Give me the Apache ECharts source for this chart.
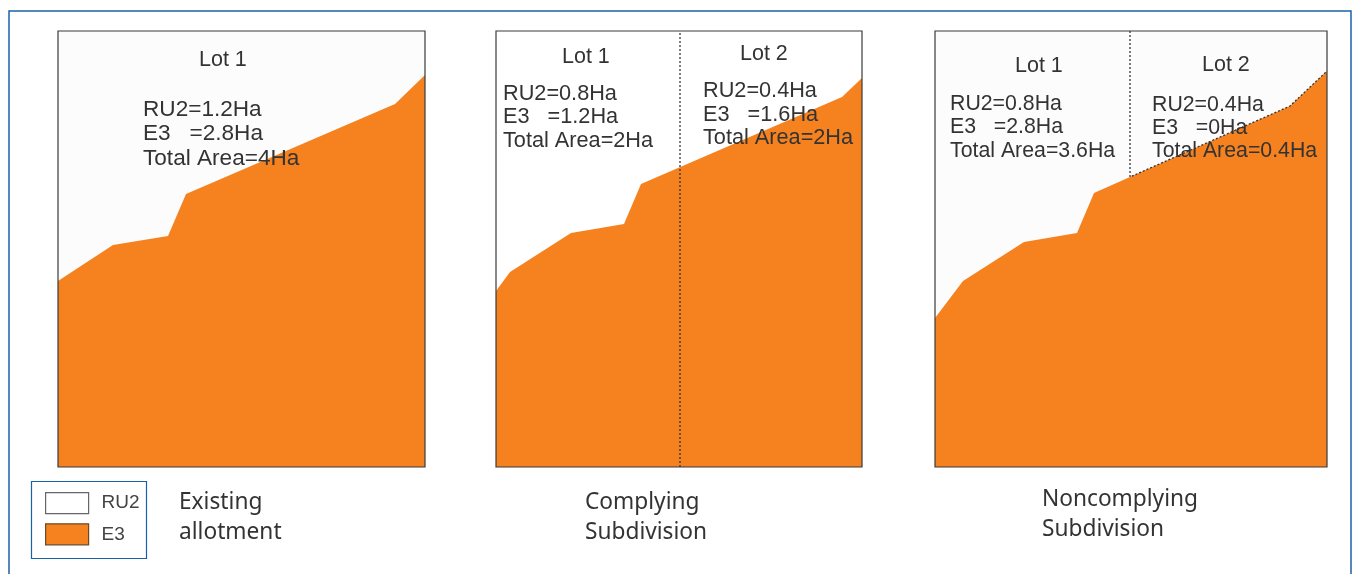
<!DOCTYPE html>
<html><head><meta charset="utf-8">
<style>html,body{margin:0;padding:0;background:#fff}#c{width:1353px;height:574px}</style>
<script src="https://cdn.jsdelivr.net/npm/echarts@6/dist/echarts.min.js"></script>
</head><body><div id="c"></div>
<script>
// Boundary between the RU2 and E3 zones in each panel, in panel units (0 = left / bottom)
const p1X = [0, 55, 110, 128, 337, 367];
const p1Y = [186, 222, 231, 273, 363, 392];
const p2X = [0, 14, 75, 128, 145, 346, 366];
const p2Y = [176, 195, 234, 243, 283, 370, 389];
const p3X = [0, 28, 89, 142, 159, 195, 355, 392];
const p3Y = [149, 186, 225, 234, 274, 290, 361, 396];
// Lot dividers
const p2DivX = [184, 184];
const p2DivY = [0, 436];
const p3DivX = [195, 195, 355, 392];
const p3DivY = [436, 290, 361, 396];
const zoneNames = ['RU2', 'E3'];
const panelHeight = 436;
const COL_E3 = '#f5821f', INK = '#333333';

const panels = [
  {left:58, width:367, xs:p1X, ys:p1Y, bg:'#fcfcfc'},
  {left:496, width:366, xs:p2X, ys:p2Y, divX:p2DivX, divY:p2DivY, bg:'#ffffff'},
  {left:935, width:392, xs:p3X, ys:p3Y, divX:p3DivX, divY:p3DivY, bg:'#fcfcfc'}
];
const grid=[], xAxis=[], yAxis=[], series=[];
panels.forEach((p,i)=>{
  grid.push({left:p.left, top:31, width:p.width, height:panelHeight, show:true,
    backgroundColor:'transparent', borderColor:'#3a3a3a', borderWidth:1.2, z:5});
  xAxis.push({type:'value', gridIndex:i, min:0, max:p.width, show:false});
  yAxis.push({type:'value', gridIndex:i, min:0, max:panelHeight, show:false});
  series.push({name:zoneNames[0], type:'line', xAxisIndex:i, yAxisIndex:i, symbol:'none', silent:true,
    data:[[0,panelHeight],[p.width,panelHeight]], lineStyle:{width:0}, areaStyle:{color:p.bg,opacity:1},
    itemStyle:{color:p.bg}, z:1});
  series.push({name:zoneNames[1], type:'line', xAxisIndex:i, yAxisIndex:i, symbol:'none', silent:true,
    data:p.xs.map((x,k)=>[x,p.ys[k]]), lineStyle:{width:0}, areaStyle:{color:COL_E3,opacity:1},
    itemStyle:{color:COL_E3}, z:2});
  if(p.divX) series.push({type:'line', xAxisIndex:i, yAxisIndex:i, symbol:'none', silent:true,
    data:p.divX.map((x,k)=>[x,p.divY[k]]), lineStyle:{color:'#333',width:1.3,type:[2,2]}, z:3});
});

const labels = [
  ['Lot 1',199,60,21.5],['RU2=1.2Ha',143,110,22.6],['E3   =2.8Ha',143,134,22.6],['Total Area=4Ha',143,159,22.6],
  ['Lot 1',562,57,21.5],['RU2=0.8Ha',503,94,21.7],['E3   =1.2Ha',503,117,21.7],['Total Area=2Ha',503,141,21.7],
  ['Lot 2',740,54,21.5],['RU2=0.4Ha',703,91,21.7],['E3   =1.6Ha',703,115,21.7],['Total Area=2Ha',703,138,21.7],
  ['Lot 1',1015,66,21.5],['RU2=0.8Ha',950,104,21.3],['E3   =2.8Ha',950,127,21.3],['Total Area=3.6Ha',950,151,21.3],
  ['Lot 2',1202,65,21.5],['RU2=0.4Ha',1152,105,21.3],['E3   =0Ha',1152,128,21.3],['Total Area=0.4Ha',1152,151,21.3]
];
const captions = [
  ['Existing',179,503],['allotment',179,533],
  ['Complying',585,503],['Subdivision',585,533],
  ['Noncomplying',1042,500],['Subdivision',1042,530]
];
const graphic = [
  {type:'rect', shape:{x:9,y:11,width:1342,height:600}, style:{fill:'none',stroke:'#1a62a8',lineWidth:1.5}, z:0},
  {type:'rect', shape:{x:31.5,y:481.5,width:115,height:77}, style:{fill:'#fff',stroke:'#1a62a8',lineWidth:1.2}, z:0}
];
labels.forEach(([t,x,y,s])=>graphic.push({type:'text',x,y,z:10,style:{text:t,fill:INK,font:s+'px "Liberation Sans"',textVerticalAlign:'middle'}}));
captions.forEach(([t,x,y])=>graphic.push({type:'text',x,y,z:10,style:{text:t,fill:INK,font:'22.7px "Noto Sans"',textVerticalAlign:'middle'}}));

const chart = echarts.init(document.getElementById('c'),null,{renderer:'canvas'});
chart.setOption({
  animation:false,
  backgroundColor:'#fff',
  grid, xAxis, yAxis, series, graphic,
  legend:{orient:'vertical', left:45, top:492, padding:0, itemWidth:43, itemHeight:21, itemGap:9, selectedMode:false,
    textStyle:{color:'#444',fontSize:19,fontFamily:'Liberation Sans',padding:[4,0,0,8]},
    data:[
      {name:'RU2',icon:'rect',itemStyle:{color:'#fff',borderColor:'#666',borderWidth:1.2}},
      {name:'E3',icon:'rect',itemStyle:{color:COL_E3,borderColor:'#6b4a2a',borderWidth:1.2}}
    ]}
});
</script></body></html>
